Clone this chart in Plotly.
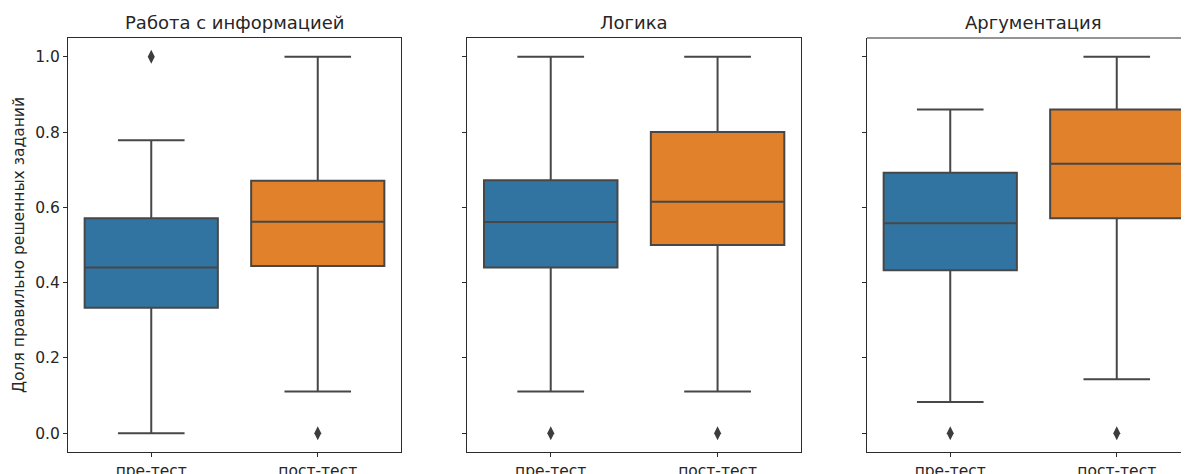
import plotly.graph_objects as go

panels = ["Работа с информацией", "Логика", "Аргументация"]
groups = ["пре-тест", "пост-тест"]

# [pre, post] per panel
q1 = [[0.333, 0.444], [0.440, 0.500], [0.433, 0.571]]
median = [[0.440, 0.562], [0.561, 0.615], [0.558, 0.716]]
q3 = [[0.571, 0.671], [0.672, 0.800], [0.692, 0.860]]
lower = [[0.000, 0.111], [0.111, 0.111], [0.083, 0.143]]
upper = [[0.778, 1.000], [1.000, 1.000], [0.860, 1.000]]
outliers = [[[1.0], [0.0]], [[0.0], [0.0]], [[0.0], [0.0]]]

colors = ["#3274A1", "#E1812C"]
line_col = "#474747"
spine_col = "#2b2b2b"

fig = go.Figure()

OFF = 8  # page body margin
L, W = 68, 1189
plot_w = W - L
pan_px = [(68, 401), (467.3, 801), (867, 1189)]
domains = [[(a - L) / plot_w, (b - L) / plot_w] for a, b in pan_px]
px_per_unit = (401 - 68) / 2.0

for p in range(3):
    ax = "" if p == 0 else str(p + 1)
    for g in range(2):
        fig.add_trace(go.Box(
            x=[g], q1=[q1[p][g]], median=[median[p][g]], q3=[q3[p][g]],
            lowerfence=[lower[p][g]], upperfence=[upper[p][g]],
            width=0.8, whiskerwidth=0.5,
            fillcolor=colors[g], line=dict(color=line_col, width=2),
            boxpoints=False, hoverinfo="skip", showlegend=False,
            xaxis="x" + ax, yaxis="y" + ax,
        ))
        fig.add_trace(go.Scatter(
            x=[g] * len(outliers[p][g]), y=outliers[p][g], mode="markers",
            marker=dict(symbol="diamond-tall", size=10, color="#3d3d3d"),
            showlegend=False, hoverinfo="skip",
            xaxis="x" + ax, yaxis="y" + ax,
        ))

layout = dict(
    width=W - OFF, height=474 - OFF,
    margin=dict(l=L - OFF, r=0, t=38 - OFF, b=22),
    paper_bgcolor="white", plot_bgcolor="white",
    font=dict(family="DejaVu Sans", size=15.5, color="#262626"),
)
annotations = []
shapes = []
for p in range(3):
    sfx = "" if p == 0 else str(p + 1)
    if p < 2:
        xr = [-0.5, 1.5]
    else:
        xr = [-0.5, -0.5 + (pan_px[2][1] - pan_px[2][0]) / px_per_unit]
    layout["xaxis" + sfx] = dict(
        domain=domains[p], range=xr, tickmode="array", tickvals=[0, 1], ticktext=groups,
        ticks="outside", ticklen=4, tickcolor=spine_col, showgrid=False, zeroline=False,
        showline=True, linecolor=spine_col, linewidth=1.2, mirror=(p < 2),
        automargin=False, tickfont=dict(size=15.5), anchor="y" + sfx, fixedrange=True,
    )
    layout["yaxis" + sfx] = dict(
        domain=[0, 1], range=[-0.05, 1.05], tickmode="array",
        tickvals=[0, 0.2, 0.4, 0.6, 0.8, 1.0],
        ticktext=["0.0", "0.2", "0.4", "0.6", "0.8", "1.0"] if p == 0 else [""] * 6,
        ticks="outside", ticklen=4, tickcolor=spine_col, showgrid=False, zeroline=False,
        showline=True, linecolor=spine_col, linewidth=1.2, mirror=(p < 2),
        automargin=False, tickfont=dict(size=15.5), anchor="x" + sfx, fixedrange=True,
        showticklabels=(p == 0),
    )
    annotations.append(dict(
        text=panels[p], xref="x" + sfx + " domain" if sfx else "x domain",
        yref="paper", x=0.5 if p < 2 else (0.5 * (pan_px[0][1] - pan_px[0][0])) / (pan_px[2][1] - pan_px[2][0]),
        y=1, yshift=3, xanchor="center", yanchor="bottom", showarrow=False,
        font=dict(size=18, color="#262626"),
    ))
# top border for the cut-off third panel
shapes.append(dict(type="line", xref="x3 domain", yref="y3 domain", x0=0, x1=1, y0=1, y1=1,
                   line=dict(color=spine_col, width=1.2)))
annotations.append(dict(text="Доля правильно решенных заданий", xref="paper", yref="paper",
                        x=0, xshift=-49, y=0.5, textangle=-90, showarrow=False,
                        xanchor="center", yanchor="middle", font=dict(size=15.5, color="#262626")))
layout["annotations"] = annotations
layout["shapes"] = shapes
fig.update_layout(**layout)

fig.write_html("out.html")
